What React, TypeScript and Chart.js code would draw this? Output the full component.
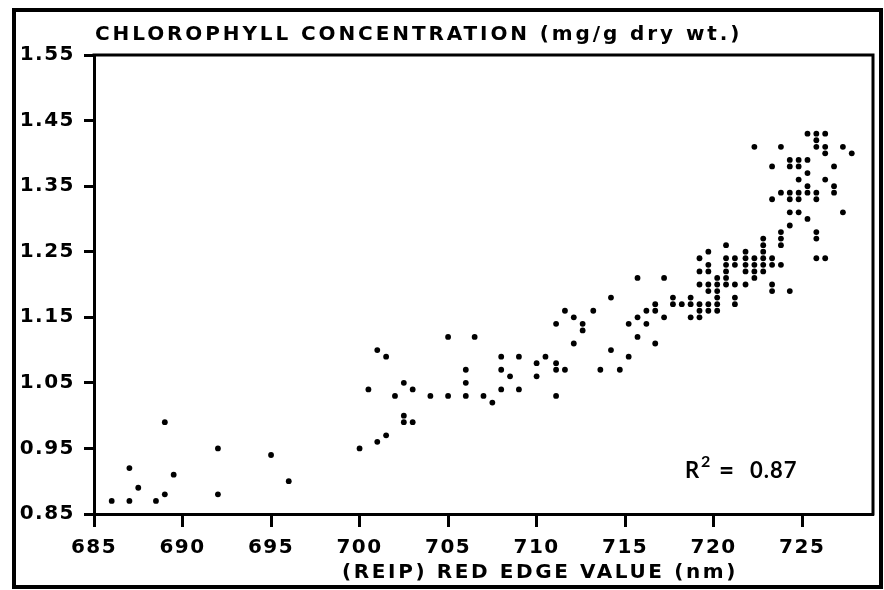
import React, { useEffect, useRef } from 'react';
import { Chart, registerables } from 'chart.js';

Chart.register(...registerables);

// ---- Text ----
const CHART_TITLE = 'CHLOROPHYLL CONCENTRATION (mg/g dry wt.)';
const X_TITLE = '(REIP) RED EDGE VALUE (nm)';
const R2_VALUE = '0.87';

// ---- Tick labels ----
const xTickValues = [685, 690, 695, 700, 705, 710, 715, 720, 725];
const yTickValues = [0.85, 0.95, 1.05, 1.15, 1.25, 1.35, 1.45, 1.55];

// ---- Data: low REIP cluster ----
const reipLow = [686, 687, 687, 687.5, 688.5, 689, 689, 689.5, 692, 692, 695, 696];
const chlLow = [0.87, 0.87, 0.92, 0.89, 0.87, 0.99, 0.88, 0.91, 0.95, 0.88, 0.94, 0.9];

// ---- Data: middle REIP range ----
const reipMid = [
  700, 700.5, 701, 701, 701.5, 701.5, 702, 702.5, 702.5, 702.5,
  703, 703, 704, 705, 705, 706, 706, 706, 706.5, 707,
  707.5, 708, 708, 708, 708.5, 709, 709, 710, 710, 710.5,
  711.1, 711.1, 711.1, 711.1, 711.6, 711.6, 712.1, 712.1, 712.6, 712.6,
  713.2, 713.6, 714.2, 714.2, 714.7, 715.2, 715.2, 715.7, 715.7, 715.7,
  716.2, 716.2, 716.7, 716.7, 716.7, 717.2, 717.2, 717.7, 717.7, 718.2,
  718.7, 718.7, 718.7,
];
const chlMid = [
  0.95, 1.04, 0.96, 1.1, 0.97, 1.09, 1.03, 1.05, 1.0, 0.99,
  1.04, 0.99, 1.03, 1.03, 1.12, 1.07, 1.05, 1.03, 1.12, 1.03,
  1.02, 1.09, 1.07, 1.04, 1.06, 1.09, 1.04, 1.08, 1.06, 1.09,
  1.14, 1.08, 1.07, 1.03, 1.16, 1.07, 1.15, 1.11, 1.14, 1.13,
  1.16, 1.07, 1.18, 1.1, 1.07, 1.14, 1.09, 1.21, 1.15, 1.12,
  1.16, 1.14, 1.17, 1.16, 1.11, 1.21, 1.15, 1.18, 1.17, 1.17,
  1.18, 1.17, 1.15,
];

// ---- Data: high REIP cluster (one REIP column per entry) ----
const reipHighColumns = [
  719.2, 719.7, 720.2, 720.7, 721.2, 721.8, 722.3, 722.8, 723.3,
  723.8, 724.3, 724.8, 725.3, 725.8, 726.3, 726.8, 727.3, 727.8,
];
const chlHighColumns = [
  [1.24, 1.22, 1.2, 1.17, 1.16, 1.15],
  [1.25, 1.23, 1.22, 1.2, 1.19, 1.17, 1.16],
  [1.21, 1.2, 1.19, 1.18, 1.17, 1.16],
  [1.26, 1.24, 1.23, 1.22, 1.21, 1.2],
  [1.24, 1.23, 1.2, 1.18, 1.17],
  [1.25, 1.24, 1.23, 1.22, 1.2],
  [1.41, 1.24, 1.23, 1.22, 1.21],
  [1.27, 1.26, 1.25, 1.24, 1.23, 1.22],
  [1.38, 1.33, 1.24, 1.23, 1.2, 1.19],
  [1.41, 1.34, 1.28, 1.27, 1.26, 1.23],
  [1.39, 1.38, 1.34, 1.33, 1.31, 1.29, 1.19],
  [1.39, 1.38, 1.36, 1.34, 1.33, 1.31],
  [1.43, 1.39, 1.37, 1.35, 1.34, 1.3],
  [1.43, 1.42, 1.41, 1.34, 1.33, 1.28, 1.27, 1.24],
  [1.43, 1.41, 1.4, 1.36, 1.24],
  [1.38, 1.35, 1.34],
  [1.41, 1.31],
  [1.4],
];

const FONT_FAMILY = '"DejaVu Sans", sans-serif';

function buildPoints() {
  const pts: { x: number; y: number }[] = [];
  reipLow.forEach((x, i) => pts.push({ x, y: chlLow[i] }));
  reipMid.forEach((x, i) => pts.push({ x, y: chlMid[i] }));
  reipHighColumns.forEach((x, i) => chlHighColumns[i].forEach((y) => pts.push({ x, y })));
  return pts;
}

const decorPlugin = {
  id: 'decor',
  beforeDraw(chart: any) {
    chart.ctx.letterSpacing = '1.5px';
  },
  afterDraw(chart: any) {
    const { ctx, chartArea: a } = chart;
    ctx.save();
    ctx.strokeStyle = '#000';
    ctx.lineCap = 'square';
    ctx.lineWidth = 3;
    ctx.beginPath();
    ctx.moveTo(a.left, a.top);
    ctx.lineTo(a.right, a.top);
    ctx.lineTo(a.right, a.bottom);
    ctx.stroke();
    // outer frame
    ctx.lineWidth = 4;
    ctx.strokeRect(14, 10, 867, 577);

    ctx.fillStyle = '#000';
    ctx.font = `bold 20px ${FONT_FAMILY}`;
    ctx.letterSpacing = '2.9px';
    ctx.textBaseline = 'middle';
    ctx.textAlign = 'left';
    ctx.fillText(CHART_TITLE, a.left + 1, 35);
    ctx.letterSpacing = '2.6px';
    ctx.textAlign = 'center';
    ctx.fillText(X_TITLE, 540, 573);

    // R^2 annotation
    ctx.textAlign = 'left';
    ctx.textBaseline = 'alphabetic';
    ctx.letterSpacing = '0px';
    ctx.font = 'bold 22px Lato, "Open Sans", sans-serif';
    ctx.fillText('R', 685, 478);
    ctx.font = 'bold 16px Lato, "Open Sans", sans-serif';
    ctx.fillText('2', 701, 467);
    ctx.font = 'bold 26px Lato, "Open Sans", sans-serif';
    ctx.fillText('=', 719, 479);
    ctx.font = 'bold 22px Lato, "Open Sans", sans-serif';
    ctx.letterSpacing = '1px';
    ctx.fillText(R2_VALUE, 750, 478);
    ctx.restore();
    ctx.letterSpacing = '0px';
  },
};

export default function App() {
  const canvasRef = useRef<HTMLCanvasElement | null>(null);

  useEffect(() => {
    if (!canvasRef.current) return;
    const tickFont = { family: FONT_FAMILY, size: 20, weight: 'bold' as const };
    const chart = new Chart(canvasRef.current, {
      type: 'scatter',
      data: {
        datasets: [
          {
            label: 'Chlorophyll',
            data: buildPoints(),
            backgroundColor: '#000',
            borderColor: '#000',
            borderWidth: 0,
            pointRadius: 2.9,
            pointHoverRadius: 2.9,
          },
        ],
      },
      options: {
        animation: false,
        responsive: true,
        maintainAspectRatio: false,
        layout: { padding: { top: 55, right: 11, bottom: 0, left: 0 } },
        plugins: {
          legend: { display: false },
          tooltip: { enabled: false },
          title: { display: false },
        },
        scales: {
          x: {
            type: 'linear',
            min: 685,
            max: 729,
            afterFit: (s: any) => {
              s.height = 76;
            },
            afterBuildTicks: (s: any) => {
              s.ticks = xTickValues.map((v) => ({ value: v }));
            },
            grid: {
              drawOnChartArea: false,
              drawTicks: true,
              tickLength: 13,
              tickWidth: 3,
              tickColor: '#000',
            },
            border: { display: true, color: '#000', width: 3 },
            ticks: {
              color: '#000',
              font: tickFont,
              padding: 9,
              maxRotation: 0,
              autoSkip: false,
              callback: (v: any) => String(v),
            },
          },
          y: {
            type: 'linear',
            min: 0.85,
            max: 1.55,
            afterFit: (s: any) => {
              s.width = 94;
            },
            afterBuildTicks: (s: any) => {
              s.ticks = yTickValues.map((v) => ({ value: v }));
            },
            grid: {
              drawOnChartArea: false,
              drawTicks: true,
              tickLength: 10,
              tickWidth: 3,
              tickColor: '#000',
            },
            border: { display: true, color: '#000', width: 3 },
            ticks: {
              color: '#000',
              font: tickFont,
              padding: 9,
              autoSkip: false,
              callback: (v: any) => Number(v).toFixed(2),
            },
          },
        },
      },
      plugins: [decorPlugin],
    });
    return () => chart.destroy();
  }, []);

  return (
    <div style={{ position: 'fixed', left: 0, top: 0, width: 884, height: 590, background: '#fff' }}>
      <canvas ref={canvasRef} />
    </div>
  );
}
